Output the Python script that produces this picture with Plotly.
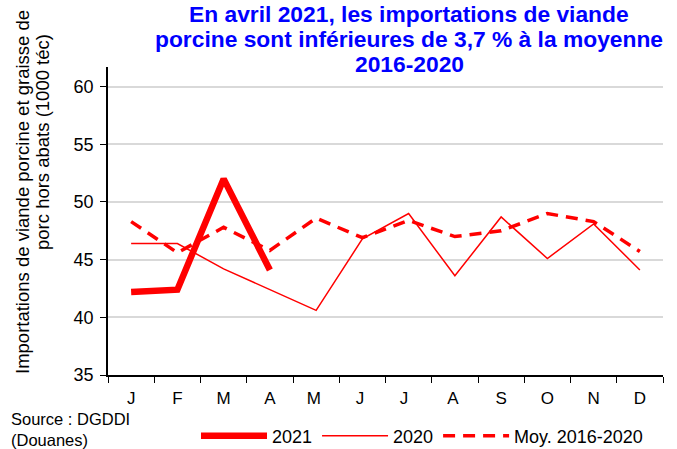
import plotly.graph_objects as go

months = ["J", "F", "M", "A", "M ", "J ", "J  ", "A ", "S", "O", "N", "D"]
y2021 = [42.2, 42.4, 52.0, 44.1]
y2020 = [46.4, 46.4, 44.2, 42.4, 40.6, 46.8, 49.0, 43.6, 48.7, 45.1, 48.1, 44.1]
ymoy = [48.3, 45.6, 47.8, 45.8, 48.6, 46.9, 48.4, 47.0, 47.5, 49.0, 48.3, 45.7]

title_lines = ["En avril 2021, les importations de viande",
               "porcine sont inférieures de 3,7 % à la moyenne",
               "2016-2020"]
ytitle_lines = ["Importations de viande porcine et graisse de",
                "porc hors abats (1000 téc)"]
source_text = "Source : DGDDI<br>(Douanes)"

W, H = 677, 449
ML, MR, MT, MB = 108, 14, 67, 74
pw = W - ML - MR
ph = H - MT - MB
FONT = "Liberation Sans, Arial, sans-serif"


def px_x(x):
    return (x - ML) / pw


def px_y(y):
    return (MT + ph - y) / ph


fig = go.Figure()
fig.add_trace(go.Scatter(x=months[:len(y2021)], y=y2021, mode="lines", name="2021",
                         line=dict(color="#FF0000", width=6.5)))
fig.add_trace(go.Scatter(x=months, y=y2020, mode="lines", name="2020",
                         line=dict(color="#FF0000", width=1.5)))
fig.add_trace(go.Scatter(x=months, y=ymoy, mode="lines", name="Moy. 2016-2020",
                         line=dict(color="#FF0000", width=3.5, dash="12px,8px")))

fig.update_layout(
    width=W, height=H, autosize=False,
    margin=dict(l=ML, r=MR, t=MT, b=MB, autoexpand=False),
    paper_bgcolor="white", plot_bgcolor="white",
    font=dict(family=FONT, color="#000000", size=16),
    xaxis=dict(type="category", range=[-0.5, 11.5], tickson="boundaries", ticks="outside",
               ticklen=6, tickcolor="#000", showline=True, linecolor="#000", linewidth=1.5,
               showgrid=False, tickfont=dict(size=17), ticklabelstandoff=7, fixedrange=True),
    yaxis=dict(range=[35, 61.7], tickvals=[35, 40, 45, 50, 55, 60], ticks="outside",
               ticklen=6, tickcolor="#000", showline=True, linecolor="#000", linewidth=1.5,
               showgrid=True, gridcolor="#D9D9D9", gridwidth=1.5, zeroline=False,
               tickfont=dict(size=18), ticklabelstandoff=3, fixedrange=True),
    showlegend=True,
    legend=dict(orientation="h", xref="container", yref="container",
                x=196 / W, xanchor="left", y=1 - 436 / H, yanchor="middle", itemwidth=66,
                font=dict(size=18), bgcolor="rgba(0,0,0,0)"),
)

for txt, yc in zip(title_lines, [13.5, 39, 64.5]):
    fig.add_annotation(text=f"<b>{txt}</b>", xref="paper", yref="paper",
                       x=px_x(409), xanchor="center", y=px_y(yc), yanchor="middle",
                       showarrow=False, borderpad=0,
                       font=dict(size=22.8, color="#0000FF", family=FONT))

for txt, xc, yc in zip(ytitle_lines, [22, 42], [192, 142]):
    fig.add_annotation(text=txt, xref="paper", yref="paper", textangle=-90,
                       x=px_x(xc), xanchor="center", y=px_y(yc), yanchor="middle",
                       showarrow=False, borderpad=0, font=dict(size=18.5, family=FONT))

fig.add_annotation(text=source_text, xref="paper", yref="paper",
                   x=px_x(10), xanchor="left", y=px_y(429), yanchor="middle",
                   showarrow=False, align="left", borderpad=0,
                   font=dict(size=16.5, family=FONT))

fig.write_html("out.html",
               config={"displayModeBar": False, "responsive": False},
               post_script="document.body.style.margin='0px';document.body.style.overflow='hidden';")
